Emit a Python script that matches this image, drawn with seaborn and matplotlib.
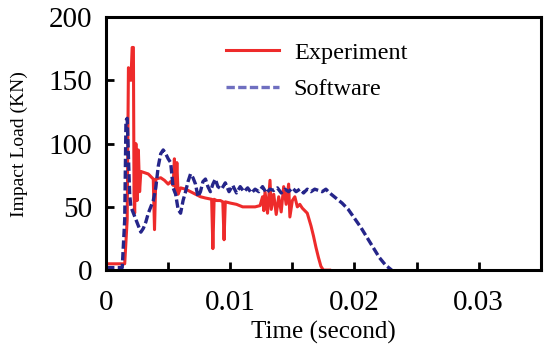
import numpy as np
import pandas as pd
import matplotlib
matplotlib.use("Agg")
import matplotlib.pyplot as plt
import seaborn as sns

# Experiment curve (time in s, load in kN)
exp_t = [0, 0.0015, 0.0017, 0.0018, 0.0020, 0.0021, 0.0022, 0.00225, 0.0023, 0.0024,
         0.0025, 0.0026, 0.0027, 0.0028, 0.0031, 0.0034, 0.0036, 0.0038, 0.0039, 0.0040,
         0.0044, 0.0047, 0.0050, 0.0052, 0.0054, 0.0055, 0.0056, 0.0057, 0.0058, 0.0060,
         0.0064, 0.0068, 0.0072, 0.0076, 0.0080, 0.0085, 0.0086, 0.0087, 0.0089, 0.0092,
         0.0094, 0.0095, 0.0096, 0.0100, 0.0105, 0.0110, 0.0115, 0.0120, 0.0124, 0.0126,
         0.0127, 0.0128, 0.0130, 0.0132, 0.0133, 0.0135, 0.0137, 0.0139, 0.0141, 0.0143,
         0.0145, 0.0147, 0.0148, 0.0150, 0.0152, 0.0154, 0.0156, 0.0158, 0.0160, 0.0162,
         0.0165, 0.0167, 0.0169, 0.0171, 0.0173, 0.0175, 0.0180]
exp_load = [5, 5, 40, 160, 150, 176, 176, 60, 45, 100,
            55, 95, 62, 78, 77, 76, 74, 72, 32, 72,
            73, 71, 68, 70, 67, 88, 62, 85, 60, 65,
            64, 62, 60, 58, 57, 56, 17, 56, 55, 55,
            54, 24, 54, 53, 52, 50, 50, 50, 51, 58,
            47, 62, 45, 71, 48, 60, 44, 58, 46, 66,
            52, 68, 42, 55, 58, 50, 52, 49, 47, 45,
            35, 27, 18, 10, 3, 0, 0]

# Software (simulation) curve
sw_t = [0, 0.0013, 0.0015, 0.0016, 0.0017, 0.0018, 0.0019, 0.0020, 0.0022, 0.0024,
        0.0026, 0.0028, 0.0030, 0.0032, 0.0034, 0.0036, 0.0038, 0.0040, 0.0042, 0.0044,
        0.0046, 0.0048, 0.0050, 0.0052, 0.0054, 0.0056, 0.0058, 0.0060, 0.0062, 0.0064,
        0.0066, 0.0068, 0.0070, 0.0072, 0.0074, 0.0076, 0.0078, 0.0080, 0.0082, 0.0084,
        0.0086, 0.0088, 0.0090, 0.0093, 0.0096, 0.0099, 0.0102, 0.0105, 0.0108, 0.0111,
        0.0114, 0.0117, 0.0120, 0.0123, 0.0126, 0.0129, 0.0132, 0.0135, 0.0138, 0.0141,
        0.0144, 0.0147, 0.0150, 0.0153, 0.0156, 0.0159, 0.0162, 0.0165, 0.0168, 0.0171,
        0.0174, 0.0177, 0.0180, 0.0185, 0.0190, 0.0195, 0.0200, 0.0205, 0.0210, 0.0215,
        0.0220, 0.0225, 0.0230]
sw_load = [2, 2, 40, 118, 120, 90, 60, 50, 45, 40,
           35, 30, 33, 38, 45, 50, 55, 65, 82, 92,
           95, 92, 88, 85, 65, 60, 48, 45, 55, 62,
           70, 76, 73, 68, 58, 62, 70, 72, 66, 62,
           68, 72, 66, 64, 69, 62, 67, 61, 66, 62,
           65, 61, 64, 62, 66, 61, 64, 63, 65, 61,
           64, 62, 65, 62, 64, 61, 64, 62, 64, 63,
           62, 64, 61, 57, 53, 48, 41, 34, 26, 18,
           10, 4, 0]

plt.rcParams['font.family'] = ['Liberation Serif', 'DejaVu Serif']

fig = plt.figure(figsize=(5.44, 3.49), dpi=100)
ax = fig.add_axes([0.195, 0.226, 0.799, 0.725])

sns.lineplot(x=exp_t, y=exp_load, ax=ax, color='#ee2b2b', linewidth=2.2,
             estimator=None, label='Experiment')
sns.lineplot(x=sw_t, y=sw_load, ax=ax, color='#25258a', linewidth=2.4,
             linestyle=(0, (2.5, 1)), estimator=None, label='Software')

ax.set_xlim(0, 0.035)
ax.set_ylim(0, 200)
ax.set_xticks([0, 0.01, 0.02, 0.03])
ax.set_xticklabels(['0', '0.01', '0.02', '0.03'])
ax.set_xticks([0.005, 0.015, 0.025], minor=True)
ax.set_yticks([0, 50, 100, 150, 200])
ax.tick_params(axis='both', which='both', direction='in', width=2, labelsize=21)
ax.tick_params(axis='x', pad=14)
ax.tick_params(axis='y', pad=10)
ax.tick_params(which='major', length=6)
ax.tick_params(which='minor', length=6)
for s in ax.spines.values():
    s.set_linewidth(2.2)

ax.set_xlabel('Time (second)', fontsize=18, labelpad=4)
ax.set_ylabel('Impact Load (KN)', fontsize=14, labelpad=15)

leg = ax.legend(loc='upper left', bbox_to_anchor=(0.225, 0.99), frameon=False,
                fontsize=17.5, handlelength=2.2, handletextpad=0.6, labelspacing=0.6)
leg.get_lines()[1].set_color('#6f6fc0')

fig.savefig('out.png', dpi=100)
